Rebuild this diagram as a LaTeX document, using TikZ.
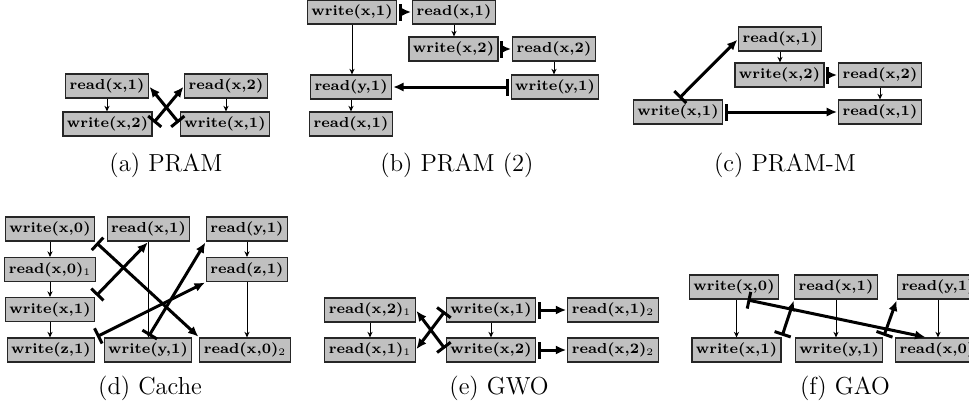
\documentclass[tikz,border=0pt]{standalone}
\usetikzlibrary{arrows.meta}
\definecolor{boxfill}{RGB}{192,192,192}
\tikzset{
  op/.style={draw=black!85, fill=boxfill, line width=0.6pt, inner xsep=2pt, inner ysep=2.3pt,
    text height=5.5pt, text depth=1.9pt,
    font=\fontsize{7.2}{9}\selectfont\bfseries},
  po/.style={-{Stealth[length=2.8pt,width=2.6pt]}, line width=0.45pt},
  ord/.style={{Bar[width=8.5pt]}-{Latex[length=5.2pt,width=4.6pt]}, line width=1.5pt,
    shorten <=0.9pt, shorten >=0.5pt},
  captext/.style={inner sep=0pt, font=\fontsize{12.3}{14}\selectfont},
}
\begin{document}
\begin{tikzpicture}[x=0.5pt,y=-0.5pt]
\useasboundingbox (0,0) rectangle (969,412);

% (a) PRAM
\node[op] (a1) at (107,86) {read(x,1)};
\node[op] (a2) at (107.5,124) {write(x,2)};
\node[op] (a3) at (226,86) {read(x,2)};
\node[op] (a4) at (225,124) {write(x,1)};
\draw[po] (a1.south) -- (a1.south |- a2.north);
\draw[po] (a3.south) -- (a3.south |- a4.north);
\draw[ord] (a2.east) -- (a3.west);
\draw[ord] (a4.west) -- (a1.east);
\node[captext] (capa) at (166,165) {(a) PRAM};

% (b) PRAM (2)
\node[op] (b1) at (352,12) {write(x,1)};
\node[op] (b2) at (454,12) {read(x,1)};
\node[op] (b3) at (453.5,49) {write(x,2)};
\node[op] (b4) at (554,49) {read(x,2)};
\node[op] (b5) at (351,87) {read(y,1)};
\node[op] (b6) at (555,87) {write(y,1)};
\node[op] (b7) at (351,124) {read(x,1)};
\draw[po] (b1.south) -- (b1.south |- b5.north);
\draw[po] (b5.south) -- (b5.south |- b7.north);
\draw[po] (b2.south) -- (b2.south |- b3.north);
\draw[po] (b4.south) -- (b4.south |- b6.north);
\draw[ord] (b1.east) -- (b2.west);
\draw[ord] (b3.east) -- (b4.west);
\draw[ord] (b6.west) -- (b5.east);
\node[captext] (capb) at (457,165) {(b) PRAM (2)};

% (c) PRAM-M
\node[op] (c1) at (780,39) {read(x,1)};
\node[op] (c2) at (779.5,75) {write(x,2)};
\node[op] (c3) at (880,75) {read(x,2)};
\node[op] (c4) at (678,112) {write(x,1)};
\node[op] (c5) at (880,112) {read(x,1)};
\draw[po] (c1.south) -- (c1.south |- c2.north);
\draw[po] (c3.south) -- (c3.south |- c5.north);
\draw[ord] (c2.east) -- (c3.west);
\draw[ord] (c4.east) -- (c5.west);
\draw[ord] (c4.north) -- (c1.west);
\node[captext] (capc) at (785,165) {(c) PRAM-M};

% (d) Cache
\node[op] (d1) at (50,229) {write(x,0)};
\node[op] (d2) at (50,269.5) {read(x,0)$_1$};
\node[op] (d3) at (50,309.5) {write(x,1)};
\node[op] (d4) at (51,350) {write(z,1)};
\node[op] (d5) at (148.5,229) {read(x,1)};
\node[op] (d6) at (148,350) {write(y,1)};
\node[op] (d7) at (247,229) {read(y,1)};
\node[op] (d8) at (247,269.5) {read(z,1)};
\node[op] (d9) at (245,350) {read(x,0)$_2$};
\draw[po] (d1.south) -- (d1.south |- d2.north);
\draw[po] (d2.south) -- (d2.south |- d3.north);
\draw[po] (d3.south) -- (d3.south |- d4.north);
\draw[po] (d5.south) -- (d5.south |- d6.north);
\draw[po] (d7.south) -- (d7.south |- d8.north);
\draw[po] (d8.south) -- (d8.south |- d9.north);
\draw[ord] (d1.south east) -- (d9.north west);
\draw[ord] (d3.north east) -- (d5.south);
\draw[ord] (d4.north east) -- (d8.south west);
\draw[ord] (d6.north) -- (d7.south west);
\node[captext] (capd) at (150,388) {(d) Cache};

% (e) GWO
\node[op] (e1) at (370,310) {read(x,2)$_1$};
\node[op] (e2) at (370,350) {read(x,1)$_1$};
\node[op] (e3) at (491,310) {write(x,1)};
\node[op] (e4) at (491,350) {write(x,2)};
\node[op] (e5) at (613,310) {read(x,1)$_2$};
\node[op] (e6) at (613,350) {read(x,2)$_2$};
\draw[po] (e1.south) -- (e1.south |- e2.north);
\draw[po] (e3.south) -- (e3.south |- e4.north);
\draw[ord] (e3.west) -- (e2.east);
\draw[ord] (e4.west) -- (e1.east);
\draw[ord] (e3.east) -- (e5.west);
\draw[ord] (e4.east) -- (e6.west);
\node[captext] (cape) at (499,388) {(e) GWO};

% (f) GAO -- the right column runs past the page edge
\node[op] (f1) at (734,287) {write(x,0)};
\node[op] (f2) at (836,287) {read(x,1)};
\node[op] (f3) at (938,287) {read(y,1)};
\node[op] (f4) at (736.5,350) {write(x,1)};
\node[op] (f5) at (839,350) {write(y,1)};
\node[op] (f6) at (937,350) {read(x,0)};
\draw[po] (f4.north |- f1.south) -- (f4.north);
\draw[po] (f2.south) -- (f2.south |- f5.north);
\draw[po] (f3.south) -- (f3.south |- f6.north);
\draw[ord] (f1.-47) -- (f6.130);
\draw[ord] (f4.north east) -- (f2.south west);
\draw[ord] (f5.north east) -- (f3.south west);
\node[captext] (capf) at (845,388) {(f) GAO};
\end{tikzpicture}
\end{document}
